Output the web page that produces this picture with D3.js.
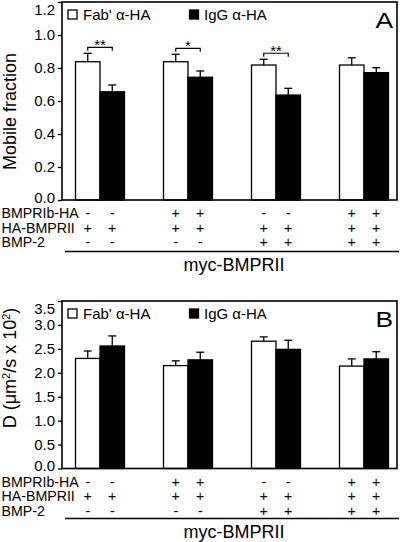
<!DOCTYPE html>
<html>
<head>
<meta charset="utf-8">
<script src="https://cdn.jsdelivr.net/npm/d3@7"></script>
<style>
  html, body { margin: 0; padding: 0; background: #fff; }
  svg { display: block; font-family: Arial, "Liberation Sans", sans-serif; }
</style>
</head>
<body>
<svg id="chart" width="400" height="542"></svg>
<script>
// ---------------- data ----------------
const groups = ["g1", "g2", "g3", "g4"];
const seriesNames = ["Fab' α-HA", "IgG α-HA"];

const mobileFab    = [0.838, 0.838, 0.818, 0.818];
const mobileFabErr = [0.051, 0.045, 0.035, 0.044];
const mobileIgG    = [0.656, 0.744, 0.636, 0.772];
const mobileIgGErr = [0.041, 0.038, 0.041, 0.030];
const mobileSignif = ["**", "*", "**", ""];

const diffFab    = [2.30, 2.15, 2.66, 2.14];
const diffFabErr = [0.155, 0.10, 0.09, 0.15];
const diffIgG    = [2.56, 2.27, 2.49, 2.29];
const diffIgGErr = [0.21, 0.16, 0.19, 0.15];

const mobileTicks = [0, 0.2, 0.4, 0.6, 0.8, 1.0, 1.2];
const diffTicks = [0, 0.5, 1.0, 1.5, 2.0, 2.5, 3.0, 3.5];

const rowLabels = ["BMPRIb-HA", "HA-BMPRII", "BMP-2"];
const rowSigns = [
  ["-", "-", "+", "+", "-", "-", "+", "+"],
  ["+", "+", "+", "+", "+", "+", "+", "+"],
  ["-", "-", "-", "-", "+", "+", "+", "+"]
];
const groupLabel = "myc-BMPRII";

// ---------------- drawing ----------------
const svg = d3.select("#chart");
const frameLeft = 62, frameRight = 397;
const barW = 24.5;

const x0 = d3.scaleBand().domain(groups).range([56, 408]).padding(0);
const xSub = d3.scaleBand().domain(seriesNames)
  .range([x0.bandwidth() / 2 - barW, x0.bandwidth() / 2 + barW]).padding(0);
const barCenter = (gi, si) => x0(groups[gi]) + xSub(seriesNames[si]) + xSub.bandwidth() / 2;

function panel(opt) {
  const g = svg.append("g");
  const y = d3.scaleLinear().domain(opt.domain).range([opt.bottom, opt.top]);

  const rows = [];
  groups.forEach((gk, gi) => {
    rows.push({ gi, si: 0, v: opt.vals[0][gi], e: opt.errs[0][gi] });
    rows.push({ gi, si: 1, v: opt.vals[1][gi], e: opt.errs[1][gi] });
  });

  // error bars (up only)
  const eb = g.append("g").attr("stroke", "#000").attr("stroke-width", 1.3).attr("fill", "none");
  rows.forEach(r => {
    const cx = barCenter(r.gi, r.si);
    eb.append("line").attr("x1", cx).attr("x2", cx).attr("y1", y(r.v)).attr("y2", y(r.v + r.e));
    eb.append("line").attr("x1", cx - 4).attr("x2", cx + 4).attr("y1", y(r.v + r.e)).attr("y2", y(r.v + r.e));
  });

  g.append("g").selectAll("rect").data(rows).join("rect")
    .attr("x", d => x0(groups[d.gi]) + xSub(seriesNames[d.si]))
    .attr("width", xSub.bandwidth())
    .attr("y", d => y(d.v))
    .attr("height", d => y(0) - y(d.v))
    .attr("fill", d => d.si === 0 ? "#fff" : "#000")
    .attr("stroke", "#000")
    .attr("stroke-width", 1.3);

  // frame
  g.append("rect")
    .attr("x", frameLeft).attr("y", opt.top)
    .attr("width", frameRight - frameLeft).attr("height", opt.bottom - opt.top)
    .attr("fill", "none").attr("stroke", "#000").attr("stroke-width", 1.6);

  // y axis
  const ax = g.append("g").attr("transform", `translate(${frameLeft},0)`)
    .call(d3.axisLeft(y).tickValues(opt.ticks).tickFormat(d3.format(".1f")).tickSize(4).tickPadding(3));
  ax.select(".domain").remove();
  ax.selectAll(".tick line").attr("stroke", "#000").attr("stroke-width", 1.3);
  ax.selectAll(".tick text").attr("font-size", 15).attr("fill", "#000")
    .attr("font-family", "Arial, 'Liberation Sans', sans-serif")
    .attr("dy", d => d === opt.domain[1] ? "0.85em" : "0.32em")
    .attr("y", d => d === opt.domain[0] ? -2.5 : 0);

  // y title
  const tt = g.append("text")
    .attr("transform", `translate(16,${opt.titleY}) rotate(-90)`)
    .attr("text-anchor", "middle").attr("font-size", 18).attr("fill", "#000");
  opt.title(tt);

  // legend
  const ly = opt.top + 8;
  g.append("rect").attr("x", 68).attr("y", ly).attr("width", 9).attr("height", 9)
    .attr("fill", "#fff").attr("stroke", "#000").attr("stroke-width", 1.3);
  g.append("text").attr("x", 83).attr("y", ly + 9.5).attr("font-size", 15).text(seriesNames[0]);
  g.append("rect").attr("x", 189.5).attr("y", ly).attr("width", 9).attr("height", 9)
    .attr("fill", "#000").attr("stroke", "#000").attr("stroke-width", 1.3);
  g.append("text").attr("x", 204).attr("y", ly + 9.5).attr("font-size", 15).text(seriesNames[1]);

  // panel letter
  g.append("text").attr("x", 393).attr("y", opt.top + 26.5).attr("text-anchor", "end")
    .attr("font-size", 22).attr("transform-origin", `393px ${opt.top + 26.5}px`)
    .attr("transform", "scale(1.2,1)").text(opt.letter);

  // significance brackets
  if (opt.signif) {
    opt.signif.forEach((s, gi) => {
      if (!s) return;
      const x1 = barCenter(gi, 0), x2 = barCenter(gi, 1);
      const top = Math.min(y(opt.vals[0][gi] + opt.errs[0][gi]), y(opt.vals[1][gi] + opt.errs[1][gi]));
      const by = top - 6;
      g.append("path").attr("d", `M${x1},${by + 3.5}V${by}H${x2}V${by + 3.5}`)
        .attr("fill", "none").attr("stroke", "#000").attr("stroke-width", 1.2);
      g.append("text").attr("x", (x1 + x2) / 2).attr("y", by + 3).attr("text-anchor", "middle")
        .attr("font-size", 15).text(s);
    });
  }

  // condition rows
  const offs = [18, 32.5, 47];
  rowLabels.forEach((lab, ri) => {
    g.append("text").attr("x", 1.5).attr("y", opt.bottom + offs[ri]).attr("font-size", 14.2).text(lab);
    rowSigns[ri].forEach((sg, bi) => {
      g.append("text").attr("x", barCenter(Math.floor(bi / 2), bi % 2))
        .attr("y", opt.bottom + offs[ri]).attr("text-anchor", "middle")
        .attr("font-size", 14.2).text(sg);
    });
  });
  g.append("line").attr("x1", 65).attr("x2", 399)
    .attr("y1", opt.bottom + opt.lineOff).attr("y2", opt.bottom + opt.lineOff)
    .attr("stroke", "#000").attr("stroke-width", 1.6);
  g.append("text").attr("x", 234).attr("y", opt.bottom + opt.lineOff + 19.5)
    .attr("text-anchor", "middle").attr("font-size", 18).text(groupLabel);
}

panel({
  top: 2, bottom: 200, domain: [0, 1.2], ticks: mobileTicks,
  vals: [mobileFab, mobileIgG], errs: [mobileFabErr, mobileIgGErr],
  signif: mobileSignif, letter: "A", titleY: 111.5, lineOff: 51.5,
  title: t => t.text("Mobile fraction")
});

panel({
  top: 301, bottom: 468.5, domain: [0, 3.5], ticks: diffTicks,
  vals: [diffFab, diffIgG], errs: [diffFabErr, diffIgGErr],
  signif: null, letter: "B", titleY: 368, lineOff: 50,
  title: t => {
    t.append("tspan").text("D (μm");
    t.append("tspan").attr("dy", -6).attr("font-size", 11).text("2");
    t.append("tspan").attr("dy", 6).text("/s x 10");
    t.append("tspan").attr("dy", -6).attr("font-size", 11).text("2");
    t.append("tspan").attr("dy", 6).text(")");
  }
});
</script>
</body>
</html>
